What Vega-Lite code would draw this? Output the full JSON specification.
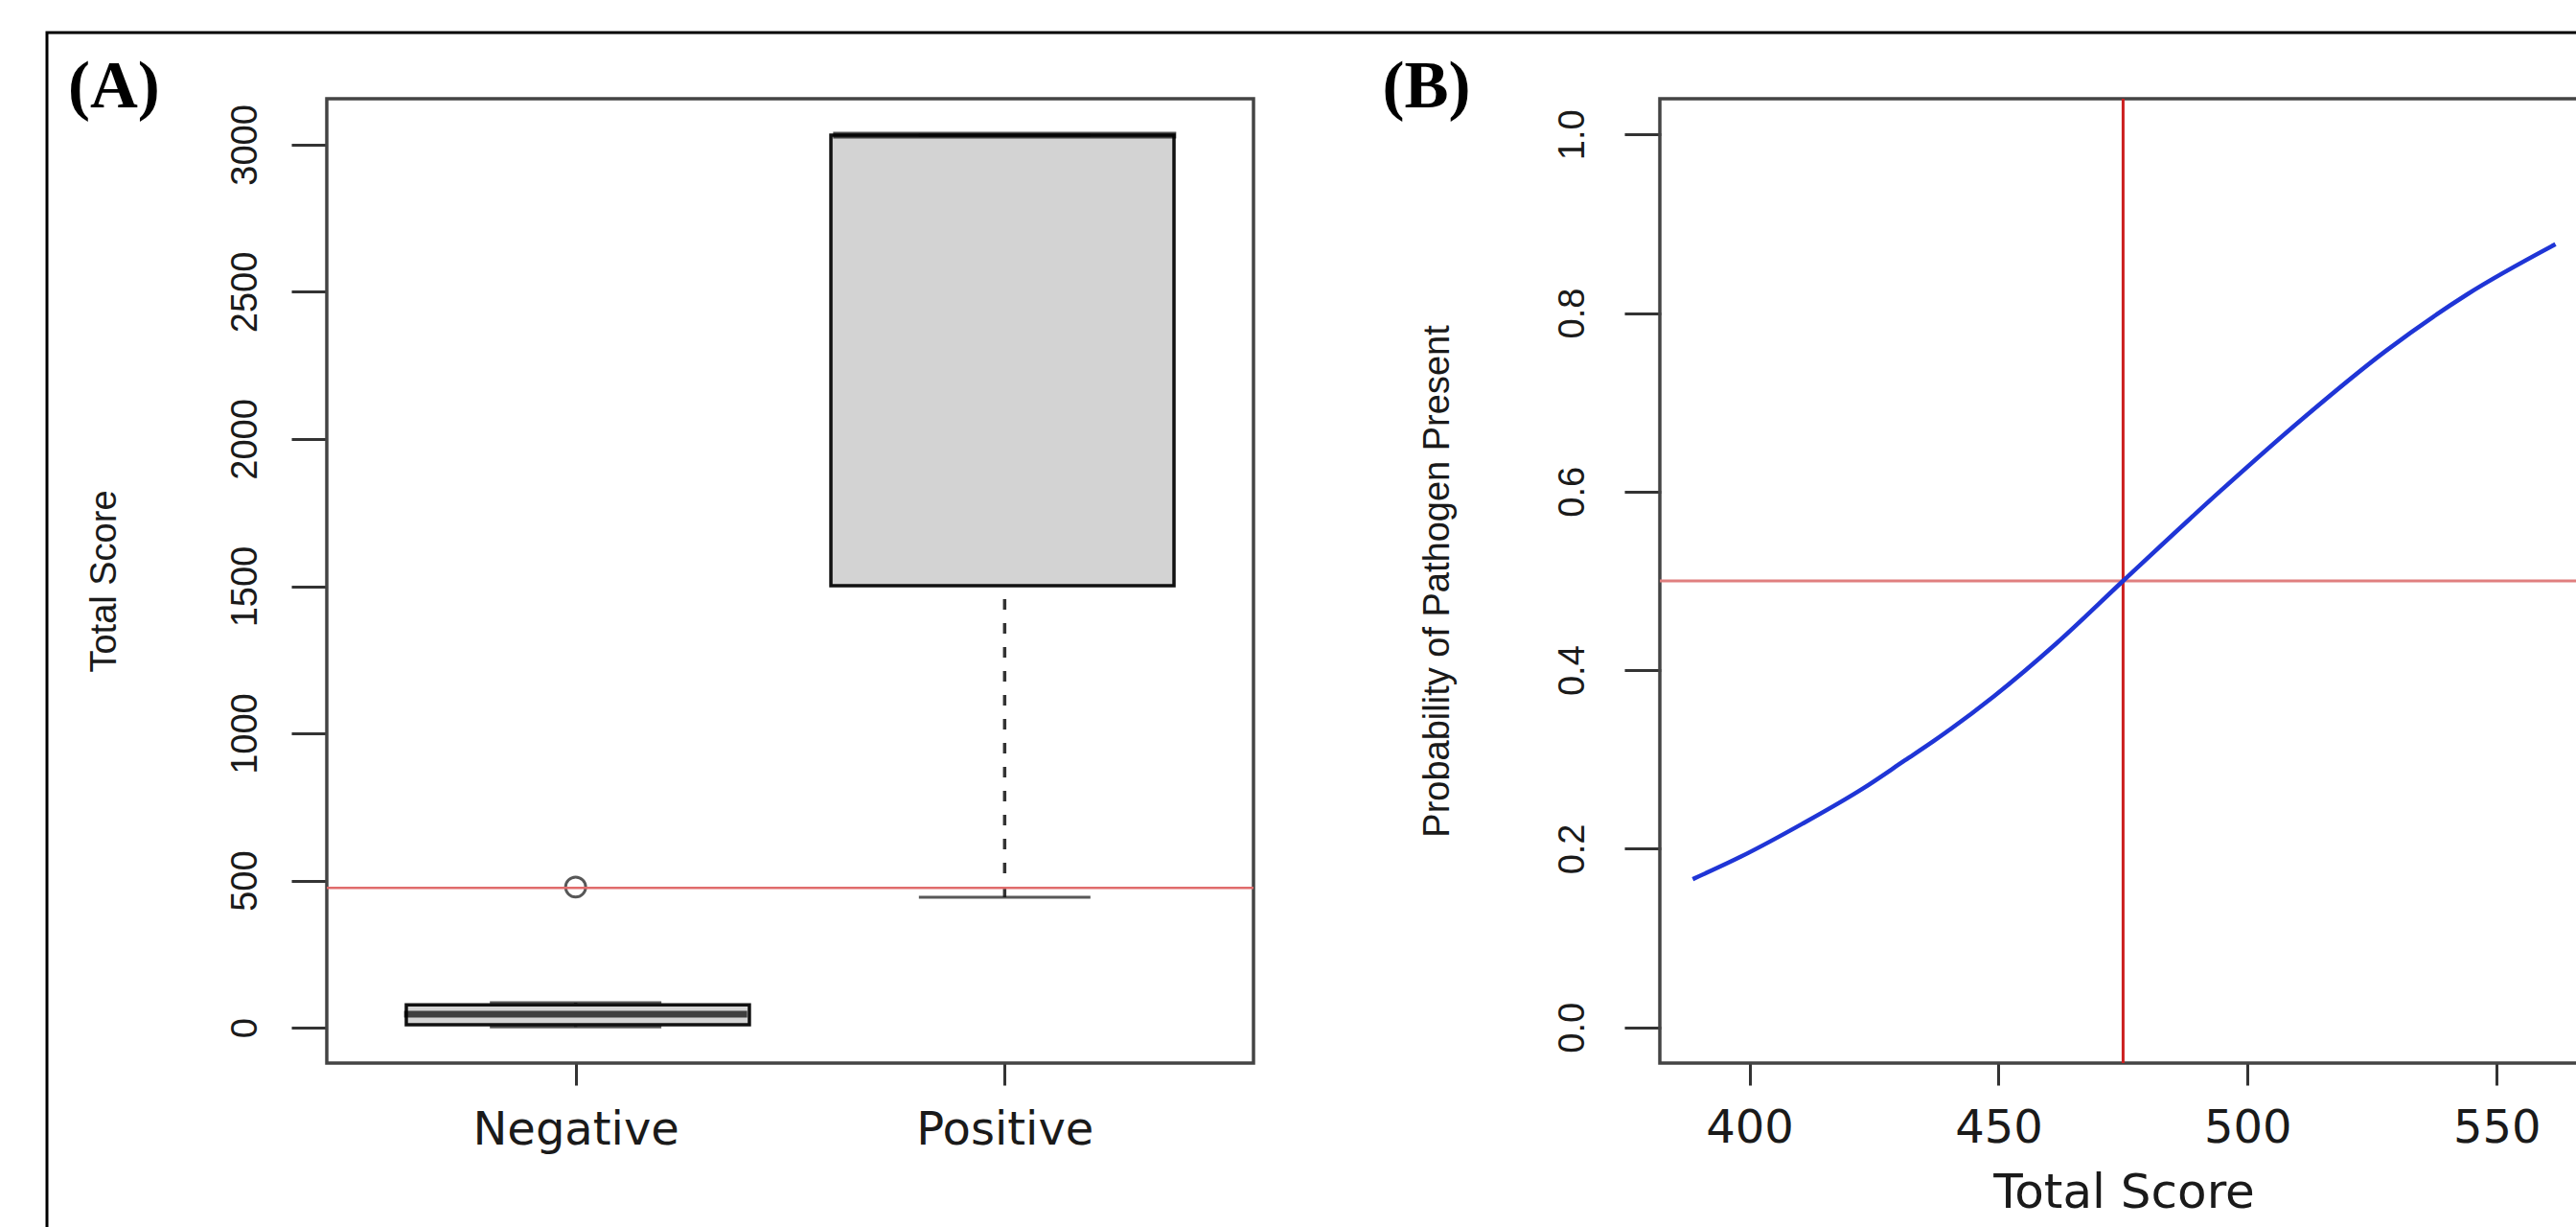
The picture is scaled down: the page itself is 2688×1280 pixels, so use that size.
{
  "$schema": "https://vega.github.io/schema/vega-lite/v6.json",
  "width": 2642,
  "height": 1249,
  "autosize": {"type": "none"},
  "padding": {"left": 49, "top": 34, "right": -3, "bottom": -3},
  "background": "white",
  "config": {
    "view": {"stroke": "black", "strokeWidth": 3},
    "axis": {"grid": false, "domain": false, "tickColor": "#333333", "tickWidth": 3, "labelColor": "#1a1a1a", "titleColor": "#1a1a1a", "labelOverlap": false, "labelFlush": false, "labelLimit": 1000, "titleLimit": 2000, "titleFontWeight": "normal"}
  },
  "datasets": {
    "boxes": [
      {"group": "Negative", "pos": 1, "lower": 3, "q1": 10, "median": 46, "q3": 78, "upper": 85},
      {"group": "Positive", "pos": 2, "lower": 443, "q1": 1502, "median": 3032, "q3": 3032, "upper": 3032}
    ],
    "outliers": [{"group": "Negative", "pos": 1, "score": 478}],
    "cutoff": [{"score": 475, "prob": 0.5}],
    "curve": [
      {"score": 388.6, "prob": 0.166},
      {"score": 398.2, "prob": 0.191},
      {"score": 410.6, "prob": 0.228},
      {"score": 422.9, "prob": 0.268},
      {"score": 431.2, "prob": 0.299},
      {"score": 436.8, "prob": 0.320},
      {"score": 449.1, "prob": 0.371},
      {"score": 461.6, "prob": 0.430},
      {"score": 475.0, "prob": 0.500},
      {"score": 494.6, "prob": 0.601},
      {"score": 511.1, "prob": 0.682},
      {"score": 527.6, "prob": 0.757},
      {"score": 544.1, "prob": 0.821},
      {"score": 561.8, "prob": 0.877}
    ]
  },
  "layer": [
    {
      "data": {"values": [{}]},
      "mark": {"type": "rect", "filled": false, "color": "#444444", "strokeWidth": 3.5},
      "encoding": {
        "x": {"datum": 0.42, "type": "quantitative", "axis": null, "scale": {"domain": [0.42, 2.58], "range": [292, 1259], "nice": false, "zero": false}},
        "x2": {"datum": 2.58},
        "y": {"datum": -120, "type": "quantitative", "axis": null, "scale": {"domain": [-120, 3156], "range": [1075, 69], "nice": false, "zero": false}},
        "y2": {"datum": 3156}
      }
    },
    {
      "data": {"name": "boxes"},
      "mark": {"type": "rule", "strokeDash": [11, 14], "color": "#333333", "strokeWidth": 3.5},
      "encoding": {
        "x": {"field": "pos", "type": "quantitative",
          "scale": {"domain": [0.42, 2.58], "range": [292, 1259], "nice": false, "zero": false},
          "axis": {"orient": "bottom", "offset": -174, "values": [1, 2], "labelExpr": "datum.value == 1 ? 'Negative' : 'Positive'", "tickSize": 23, "labelPadding": 61, "labelBaseline": "alphabetic", "labelAlign": "center", "labelFont": "DejaVu Sans", "labelFontSize": 48, "title": null}},
        "y": {"field": "lower", "type": "quantitative",
          "scale": {"domain": [-120, 3156], "range": [1075, 69], "nice": false, "zero": false},
          "axis": {"orient": "left", "offset": -292, "values": [0, 500, 1000, 1500, 2000, 2500, 3000], "format": "d", "tickSize": 37, "labelPadding": 37, "labelAngle": 270, "labelAlign": "center", "labelBaseline": "alphabetic", "labelFont": "Liberation Sans", "labelFontSize": 38, "title": "Total Score", "titleFont": "Liberation Sans", "titleFontSize": 38, "titleAngle": 270, "titleAlign": "center", "titleBaseline": "alphabetic", "titleX": -221, "titleY": 572}},
        "y2": {"field": "q1"}
      }
    },
    {
      "data": {"name": "boxes"},
      "mark": {"type": "rule", "strokeDash": [11, 14], "color": "#333333", "strokeWidth": 3.5},
      "encoding": {
        "x": {"field": "pos", "type": "quantitative", "axis": null, "scale": {"domain": [0.42, 2.58], "range": [292, 1259], "nice": false, "zero": false}},
        "y": {"field": "q3", "type": "quantitative", "axis": null, "scale": {"domain": [-120, 3156], "range": [1075, 69], "nice": false, "zero": false}},
        "y2": {"field": "upper"}
      }
    },
    {
      "data": {"name": "boxes"},
      "mark": {"type": "bar", "width": 358, "fill": "#d3d3d3", "stroke": "#111111", "strokeWidth": 3.5},
      "encoding": {
        "x": {"field": "pos", "type": "quantitative", "axis": null, "scale": {"domain": [0.42, 2.58], "range": [292, 1259], "nice": false, "zero": false}},
        "y": {"field": "q1", "type": "quantitative", "axis": null, "scale": {"domain": [-120, 3156], "range": [1075, 69], "nice": false, "zero": false}},
        "y2": {"field": "q3"}
      }
    },
    {
      "data": {"name": "boxes"},
      "mark": {"type": "tick", "orient": "horizontal", "size": 179, "thickness": 3, "color": "#111111"},
      "encoding": {
        "x": {"field": "pos", "type": "quantitative", "axis": null, "scale": {"domain": [0.42, 2.58], "range": [292, 1259], "nice": false, "zero": false}},
        "y": {"field": "lower", "type": "quantitative", "axis": null, "scale": {"domain": [-120, 3156], "range": [1075, 69], "nice": false, "zero": false}}
      }
    },
    {
      "data": {"name": "boxes"},
      "mark": {"type": "tick", "orient": "horizontal", "size": 179, "thickness": 3, "color": "#111111"},
      "encoding": {
        "x": {"field": "pos", "type": "quantitative", "axis": null, "scale": {"domain": [0.42, 2.58], "range": [292, 1259], "nice": false, "zero": false}},
        "y": {"field": "upper", "type": "quantitative", "axis": null, "scale": {"domain": [-120, 3156], "range": [1075, 69], "nice": false, "zero": false}}
      }
    },
    {
      "data": {"name": "boxes"},
      "mark": {"type": "tick", "orient": "horizontal", "size": 358, "thickness": 7, "color": "#000000"},
      "encoding": {
        "x": {"field": "pos", "type": "quantitative", "axis": null, "scale": {"domain": [0.42, 2.58], "range": [292, 1259], "nice": false, "zero": false}},
        "y": {"field": "median", "type": "quantitative", "axis": null, "scale": {"domain": [-120, 3156], "range": [1075, 69], "nice": false, "zero": false}}
      }
    },
    {
      "data": {"name": "outliers"},
      "mark": {"type": "point", "shape": "circle", "filled": false, "size": 440, "strokeWidth": 3, "color": "#111111"},
      "encoding": {
        "x": {"field": "pos", "type": "quantitative", "axis": null, "scale": {"domain": [0.42, 2.58], "range": [292, 1259], "nice": false, "zero": false}},
        "y": {"field": "score", "type": "quantitative", "axis": null, "scale": {"domain": [-120, 3156], "range": [1075, 69], "nice": false, "zero": false}}
      }
    },
    {
      "data": {"name": "cutoff"},
      "mark": {"type": "rule", "color": "#e06c6c", "strokeWidth": 2.5},
      "encoding": {
        "x": {"datum": 0.42, "type": "quantitative", "axis": null, "scale": {"domain": [0.42, 2.58], "range": [292, 1259], "nice": false, "zero": false}},
        "x2": {"datum": 2.58},
        "y": {"field": "score", "type": "quantitative", "axis": null, "scale": {"domain": [-120, 3156], "range": [1075, 69], "nice": false, "zero": false}}
      }
    },
    {
      "data": {"values": [{"label": "(A)"}]},
      "mark": {"type": "text", "font": "Liberation Serif", "fontWeight": "bold", "fontSize": 69, "align": "left", "baseline": "alphabetic", "color": "#000000"},
      "encoding": {
        "text": {"field": "label"},
        "x": {"datum": -0.183, "type": "quantitative", "axis": null, "scale": {"domain": [0.42, 2.58], "range": [292, 1259], "nice": false, "zero": false}},
        "y": {"datum": 3127, "type": "quantitative", "axis": null, "scale": {"domain": [-120, 3156], "range": [1075, 69], "nice": false, "zero": false}}
      }
    },
    {
      "data": {"values": [{}]},
      "mark": {"type": "rect", "filled": false, "color": "#444444", "strokeWidth": 3.5},
      "encoding": {
        "x": {"datum": 382, "type": "quantitative", "axis": null, "scale": {"domain": [382, 569], "range": [1683, 2655], "nice": false, "zero": false}},
        "x2": {"datum": 569},
        "y": {"datum": -0.04, "type": "quantitative", "axis": null, "scale": {"domain": [-0.04, 1.04], "range": [1075, 69], "nice": false, "zero": false}},
        "y2": {"datum": 1.04}
      }
    },
    {
      "data": {"name": "cutoff"},
      "mark": {"type": "rule", "color": "#e07f7f", "strokeWidth": 3},
      "encoding": {
        "x": {"datum": 382, "type": "quantitative", "axis": null, "scale": {"domain": [382, 569], "range": [1683, 2655], "nice": false, "zero": false}},
        "x2": {"datum": 569},
        "y": {"field": "prob", "type": "quantitative", "axis": null, "scale": {"domain": [-0.04, 1.04], "range": [1075, 69], "nice": false, "zero": false}}
      }
    },
    {
      "data": {"name": "cutoff"},
      "mark": {"type": "rule", "color": "#cc1f1f", "strokeWidth": 3},
      "encoding": {
        "x": {"field": "score", "type": "quantitative", "axis": null, "scale": {"domain": [382, 569], "range": [1683, 2655], "nice": false, "zero": false}},
        "y": {"datum": -0.04, "type": "quantitative", "axis": null, "scale": {"domain": [-0.04, 1.04], "range": [1075, 69], "nice": false, "zero": false}},
        "y2": {"datum": 1.04}
      }
    },
    {
      "data": {"name": "curve"},
      "mark": {"type": "line", "interpolate": "monotone", "color": "#1f35d6", "strokeWidth": 4.5},
      "encoding": {
        "x": {"field": "score", "type": "quantitative",
          "scale": {"domain": [382, 569], "range": [1683, 2655], "nice": false, "zero": false},
          "axis": {"orient": "bottom", "offset": -174, "values": [400, 450, 500, 550], "format": "d", "tickSize": 23, "labelPadding": 59, "labelBaseline": "alphabetic", "labelAlign": "center", "labelFont": "DejaVu Sans", "labelFontSize": 48, "title": "Total Score", "titleFont": "DejaVu Sans", "titleFontSize": 50, "titleAngle": 0, "titleAlign": "center", "titleBaseline": "alphabetic", "titleX": 2167, "titleY": 150}},
        "y": {"field": "prob", "type": "quantitative",
          "scale": {"domain": [-0.04, 1.04], "range": [1075, 69], "nice": false, "zero": false},
          "axis": {"orient": "left", "offset": -1684, "values": [0, 0.2, 0.4, 0.6, 0.8, 1], "format": ".1f", "tickSize": 38, "labelPadding": 43, "labelAngle": 270, "labelAlign": "center", "labelBaseline": "alphabetic", "labelFont": "Liberation Sans", "labelFontSize": 38, "title": "Probability of Pathogen Present", "titleFont": "Liberation Sans", "titleFontSize": 38, "titleAngle": 270, "titleAlign": "center", "titleBaseline": "alphabetic", "titleX": -222, "titleY": 572}}
      }
    },
    {
      "data": {"values": [{"label": "(B)"}]},
      "mark": {"type": "text", "font": "Liberation Serif", "fontWeight": "bold", "fontSize": 69, "align": "left", "baseline": "alphabetic", "color": "#000000"},
      "encoding": {
        "text": {"field": "label"},
        "x": {"datum": 326.3, "type": "quantitative", "axis": null, "scale": {"domain": [382, 569], "range": [1683, 2655], "nice": false, "zero": false}},
        "y": {"datum": 1.0303, "type": "quantitative", "axis": null, "scale": {"domain": [-0.04, 1.04], "range": [1075, 69], "nice": false, "zero": false}}
      }
    }
  ],
  "resolve": {
    "scale": {"x": "independent", "y": "independent"},
    "axis": {"x": "independent", "y": "independent"}
  }
}
